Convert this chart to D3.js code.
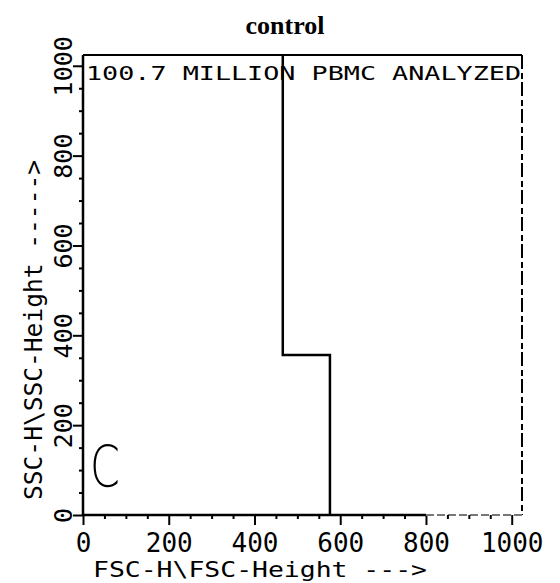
<!DOCTYPE html>
<html>
<head>
<meta charset="utf-8">
<script src="https://cdn.jsdelivr.net/npm/d3@7"></script>
<style>
  body { margin: 0; background: #fff; }
  text { fill: #000; }
</style>
</head>
<body>
<svg id="chart"></svg>
<script>
// chart values
const xTicks = [0, 200, 400, 600, 800, 1000];
const yTicks = [0, 200, 400, 600, 800, 1000];
const minorTicks = d3.range(50, 1024, 50);
const gateX = [466, 466, 576, 576];
const gateY = [1024, 356, 356, 0];
const chartTitle = "control";
const headerText = "100.7 MILLION PBMC ANALYZED";
const xLabel = "FSC-H\\FSC-Height --->";
const yLabel = "SSC-H\\SSC-Height ----->";
const panelLetter = "C";

const width = 560, height = 583;
const margin = { top: 55, right: 38, bottom: 68, left: 83 };

const svg = d3.select("#chart")
    .attr("width", width)
    .attr("height", height);

const x = d3.scaleLinear().domain([0, 1024]).range([margin.left, width - margin.right]);
const y = d3.scaleLinear().domain([0, 1024]).range([height - margin.bottom, margin.top]);

const mono = "'DejaVu Sans Mono', monospace";

// title
svg.append("text")
    .attr("x", 285)
    .attr("y", 34)
    .attr("text-anchor", "middle")
    .attr("font-family", "'Liberation Serif', 'Times New Roman', serif")
    .attr("font-weight", "bold")
    .style("font-size", "26px")
    .text(chartTitle);

// frame top + right (right one is broken like the old printout)
svg.append("line")
    .attr("x1", x(0)).attr("x2", x(1024))
    .attr("y1", y(1024)).attr("y2", y(1024))
    .attr("stroke", "#000").attr("stroke-width", 2);
svg.append("line")
    .attr("x1", x(1024)).attr("x2", x(1024))
    .attr("y1", y(1024)).attr("y2", y(0))
    .attr("stroke", "#000").attr("stroke-width", 2)
    .attr("stroke-dasharray", "14,4,6,3");

// X axis
const xAxis = d3.axisBottom(x).tickValues(xTicks).tickSize(10).tickFormat(d3.format("d"));
const xg = svg.append("g")
    .attr("transform", `translate(0,${y(0)})`)
    .call(xAxis);
xg.select(".domain").attr("stroke-width", 2.5).attr("d", `M${x(0)},0H${x(800)}`);
xg.selectAll(".tick line").attr("stroke-width", 2);
xg.selectAll(".tick text")
    .attr("font-family", mono).style("font-size", "26px").attr("dy", "0.93em");
// faded end of the bottom axis
svg.append("line")
    .attr("x1", x(800)).attr("x2", x(1024))
    .attr("y1", y(0)).attr("y2", y(0))
    .attr("stroke", "#777").attr("stroke-width", 2)
    .attr("stroke-dasharray", "8,3");
svg.append("g")
    .attr("transform", `translate(0,${y(0)})`)
    .call(d3.axisBottom(x).tickValues(minorTicks.filter(d => d % 200 != 0)).tickSize(4).tickFormat(""))
    .call(g => g.select(".domain").remove())
    .selectAll(".tick line").attr("stroke-width", 2);

// Y axis
const yAxis = d3.axisLeft(y).tickValues(yTicks).tickSize(10).tickFormat(d3.format("d"));
const yg = svg.append("g")
    .attr("transform", `translate(${x(0)},0)`)
    .call(yAxis);
yg.select(".domain").attr("stroke-width", 2.5).attr("d", `M0,${y(0)}V${y(1024)}`);
yg.selectAll(".tick line").attr("stroke-width", 2);
yg.selectAll(".tick text")
    .attr("font-family", mono).style("font-size", "25px")
    .attr("text-anchor", "middle")
    .attr("x", 0).attr("dy", 0)
    .attr("transform", "translate(-11,0) rotate(-90)");
svg.append("g")
    .attr("transform", `translate(${x(0)},0)`)
    .call(d3.axisLeft(y).tickValues(minorTicks.filter(d => d % 200 != 0)).tickSize(4).tickFormat(""))
    .call(g => g.select(".domain").remove())
    .selectAll(".tick line").attr("stroke-width", 2);

// axis titles
svg.append("text")
    .attr("x", 260)
    .attr("y", 577)
    .attr("text-anchor", "middle")
    .attr("font-family", mono)
    .style("font-size", "21px")
    .attr("textLength", 334)
    .attr("lengthAdjust", "spacingAndGlyphs")
    .text(xLabel);

svg.append("text")
    .attr("transform", `translate(42,330) rotate(-90)`)
    .attr("text-anchor", "middle")
    .attr("font-family", mono)
    .style("font-size", "24px")
    .attr("textLength", 340)
    .attr("lengthAdjust", "spacingAndGlyphs")
    .text(yLabel);

// header inside plot
svg.append("text")
    .attr("x", x(0) + 3)
    .attr("y", 80)
    .attr("font-family", mono)
    .style("font-size", "19px")
    .attr("textLength", x(1024) - x(0) - 4)
    .attr("lengthAdjust", "spacingAndGlyphs")
    .text(headerText);

// panel letter
svg.append("text")
    .attr("transform", "translate(90,487) scale(0.75,1)")
    .attr("font-family", "'DejaVu Sans', sans-serif")
    .attr("font-weight", "300")
    .style("font-size", "57px")
    .text(panelLetter);

// gate line
const gate = gateX.map((d, i) => [d, gateY[i]]);
svg.append("path")
    .datum(gate)
    .attr("fill", "none")
    .attr("stroke", "#000")
    .attr("stroke-width", 2.5)
    .attr("d", d3.line().x(d => x(d[0])).y(d => y(d[1])));
</script>
</body>
</html>
